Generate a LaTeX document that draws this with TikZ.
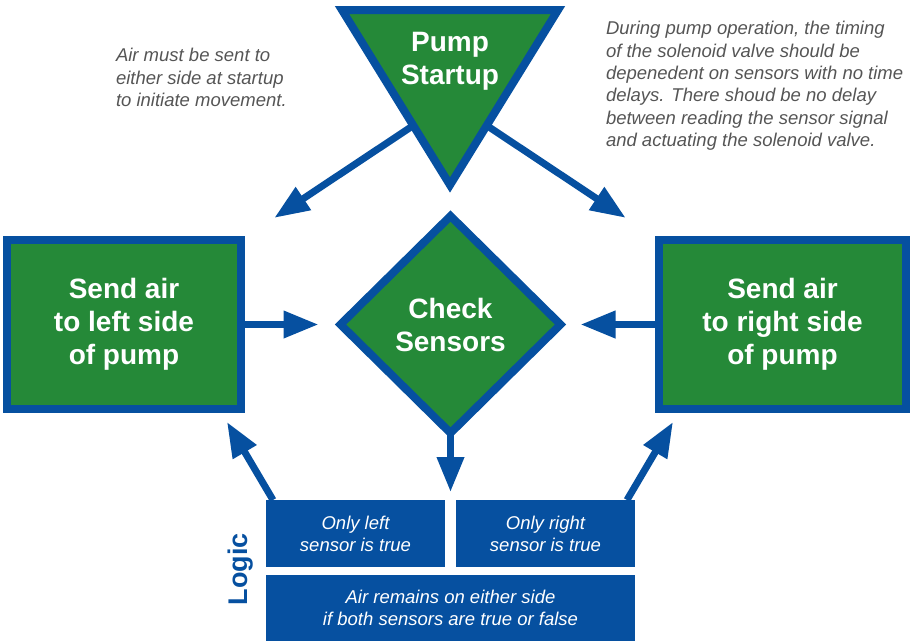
\documentclass[tikz,border=0pt]{standalone}
\usepackage{fontspec}
\setmainfont{Liberation Sans}
\usetikzlibrary{shapes.geometric,arrows.meta,calc}
\definecolor{pumpblue}{RGB}{6,80,160}
\definecolor{pumpgreen}{RGB}{37,137,56}
\definecolor{notegray}{RGB}{85,85,85}
\begin{document}
\begin{tikzpicture}[x=1pt,y=-1pt,>={Triangle[length=35pt,width=26pt]}]
    \tikzstyle{every node}=[inner sep=0pt,outer sep=0pt]
    \tikzstyle{title}=[text=white,align=center,font=\fontsize{28}{33}\selectfont\bfseries]
    \tikzstyle{flow}=[title,draw=pumpblue,line width=8pt,fill=pumpgreen]
    \tikzstyle{start}=[flow,isosceles triangle,isosceles triangle stretches,shape border rotate=270,minimum width=216pt,minimum height=175pt]
    \tikzstyle{action}=[flow,rectangle,minimum height=169pt]
    \tikzstyle{decision}=[flow,diamond,minimum width=220pt,minimum height=217pt]
    \tikzstyle{logic box}=[rectangle,fill=pumpblue,text=white,align=center,minimum height=67pt,font=\fontsize{18.5}{22}\selectfont\itshape]
    \tikzstyle{note}=[text=notegray,align=left,font=\fontsize{18.5}{22.3}\selectfont\itshape]
    \tikzstyle{link}=[->,draw=pumpblue,line width=7pt]

    \useasboundingbox (0,0) rectangle (914,641);

    % Draw the startup triangle and the flow steps
    \node[start,anchor=apex] (startup) at (450,185) {};
    \node[title,anchor=north] (startuptext) at (450,32) {Pump\\Startup};
    \node[action,minimum width=234pt] (sendleft) at (124,324.5) {Send air\\to left side\\of pump};
    \node[action,minimum width=247pt] (sendright) at (782.5,324.5) {Send air\\to right side\\of pump};
    \node[decision] (check) at (450.5,324.5) {Check\\Sensors};

    % Draw the logic boxes
    \node[logic box,minimum width=179pt] (onlyleft) at (355.5,533.5) {Only left\\sensor is true};
    \node[logic box,minimum width=179pt] (onlyright) at (545.5,533.5) {Only right\\sensor is true};
    \node[logic box,minimum width=369pt,minimum height=66pt] (bothsame) at (450.5,608) {Air remains on either side\\if both sensors are true or false};
    \node[rotate=90,text=pumpblue,font=\fontsize{27}{27}\selectfont\bfseries] (logic) at (241,569) {Logic};

    % Annotate the startup and the running pump
    \node[note,anchor=north west] (startnote) at (116,48.5) {Air must be sent to\\either side at startup\\to initiate movement.};
    \node[note,anchor=north west] (runnote) at (606,21.5) {During pump operation, the timing\\of the solenoid valve should be\\depenedent on sensors with no time\\delays. There shoud be no delay\\between reading the sensor signal\\and actuating the solenoid valve.};

    % Connect the steps
    \coordinate (leftin) at (227,422);
    \coordinate (rightin) at (673,422);
    \draw[link,shorten <=3pt,shorten >=40pt] ($(startup.apex)!0.34!(startup.right corner)$) -- (sendleft.north east);
    \draw[link,shorten <=3pt,shorten >=40pt] ($(startup.apex)!0.34!(startup.left corner)$) -- (sendright.north west);
    \draw[link,shorten >=22pt] (sendleft.east) -- (check.west);
    \draw[link,shorten >=20pt] (sendright.west) -- (check.east);
    \draw[link,shorten >=8pt] (check.south) -- (check |- onlyleft.north);
    \draw[link] ([xshift=7pt]onlyleft.north west) -- (leftin);
    \draw[link] ([xshift=-8pt]onlyright.north east) -- (rightin);
\end{tikzpicture}
\end{document}
